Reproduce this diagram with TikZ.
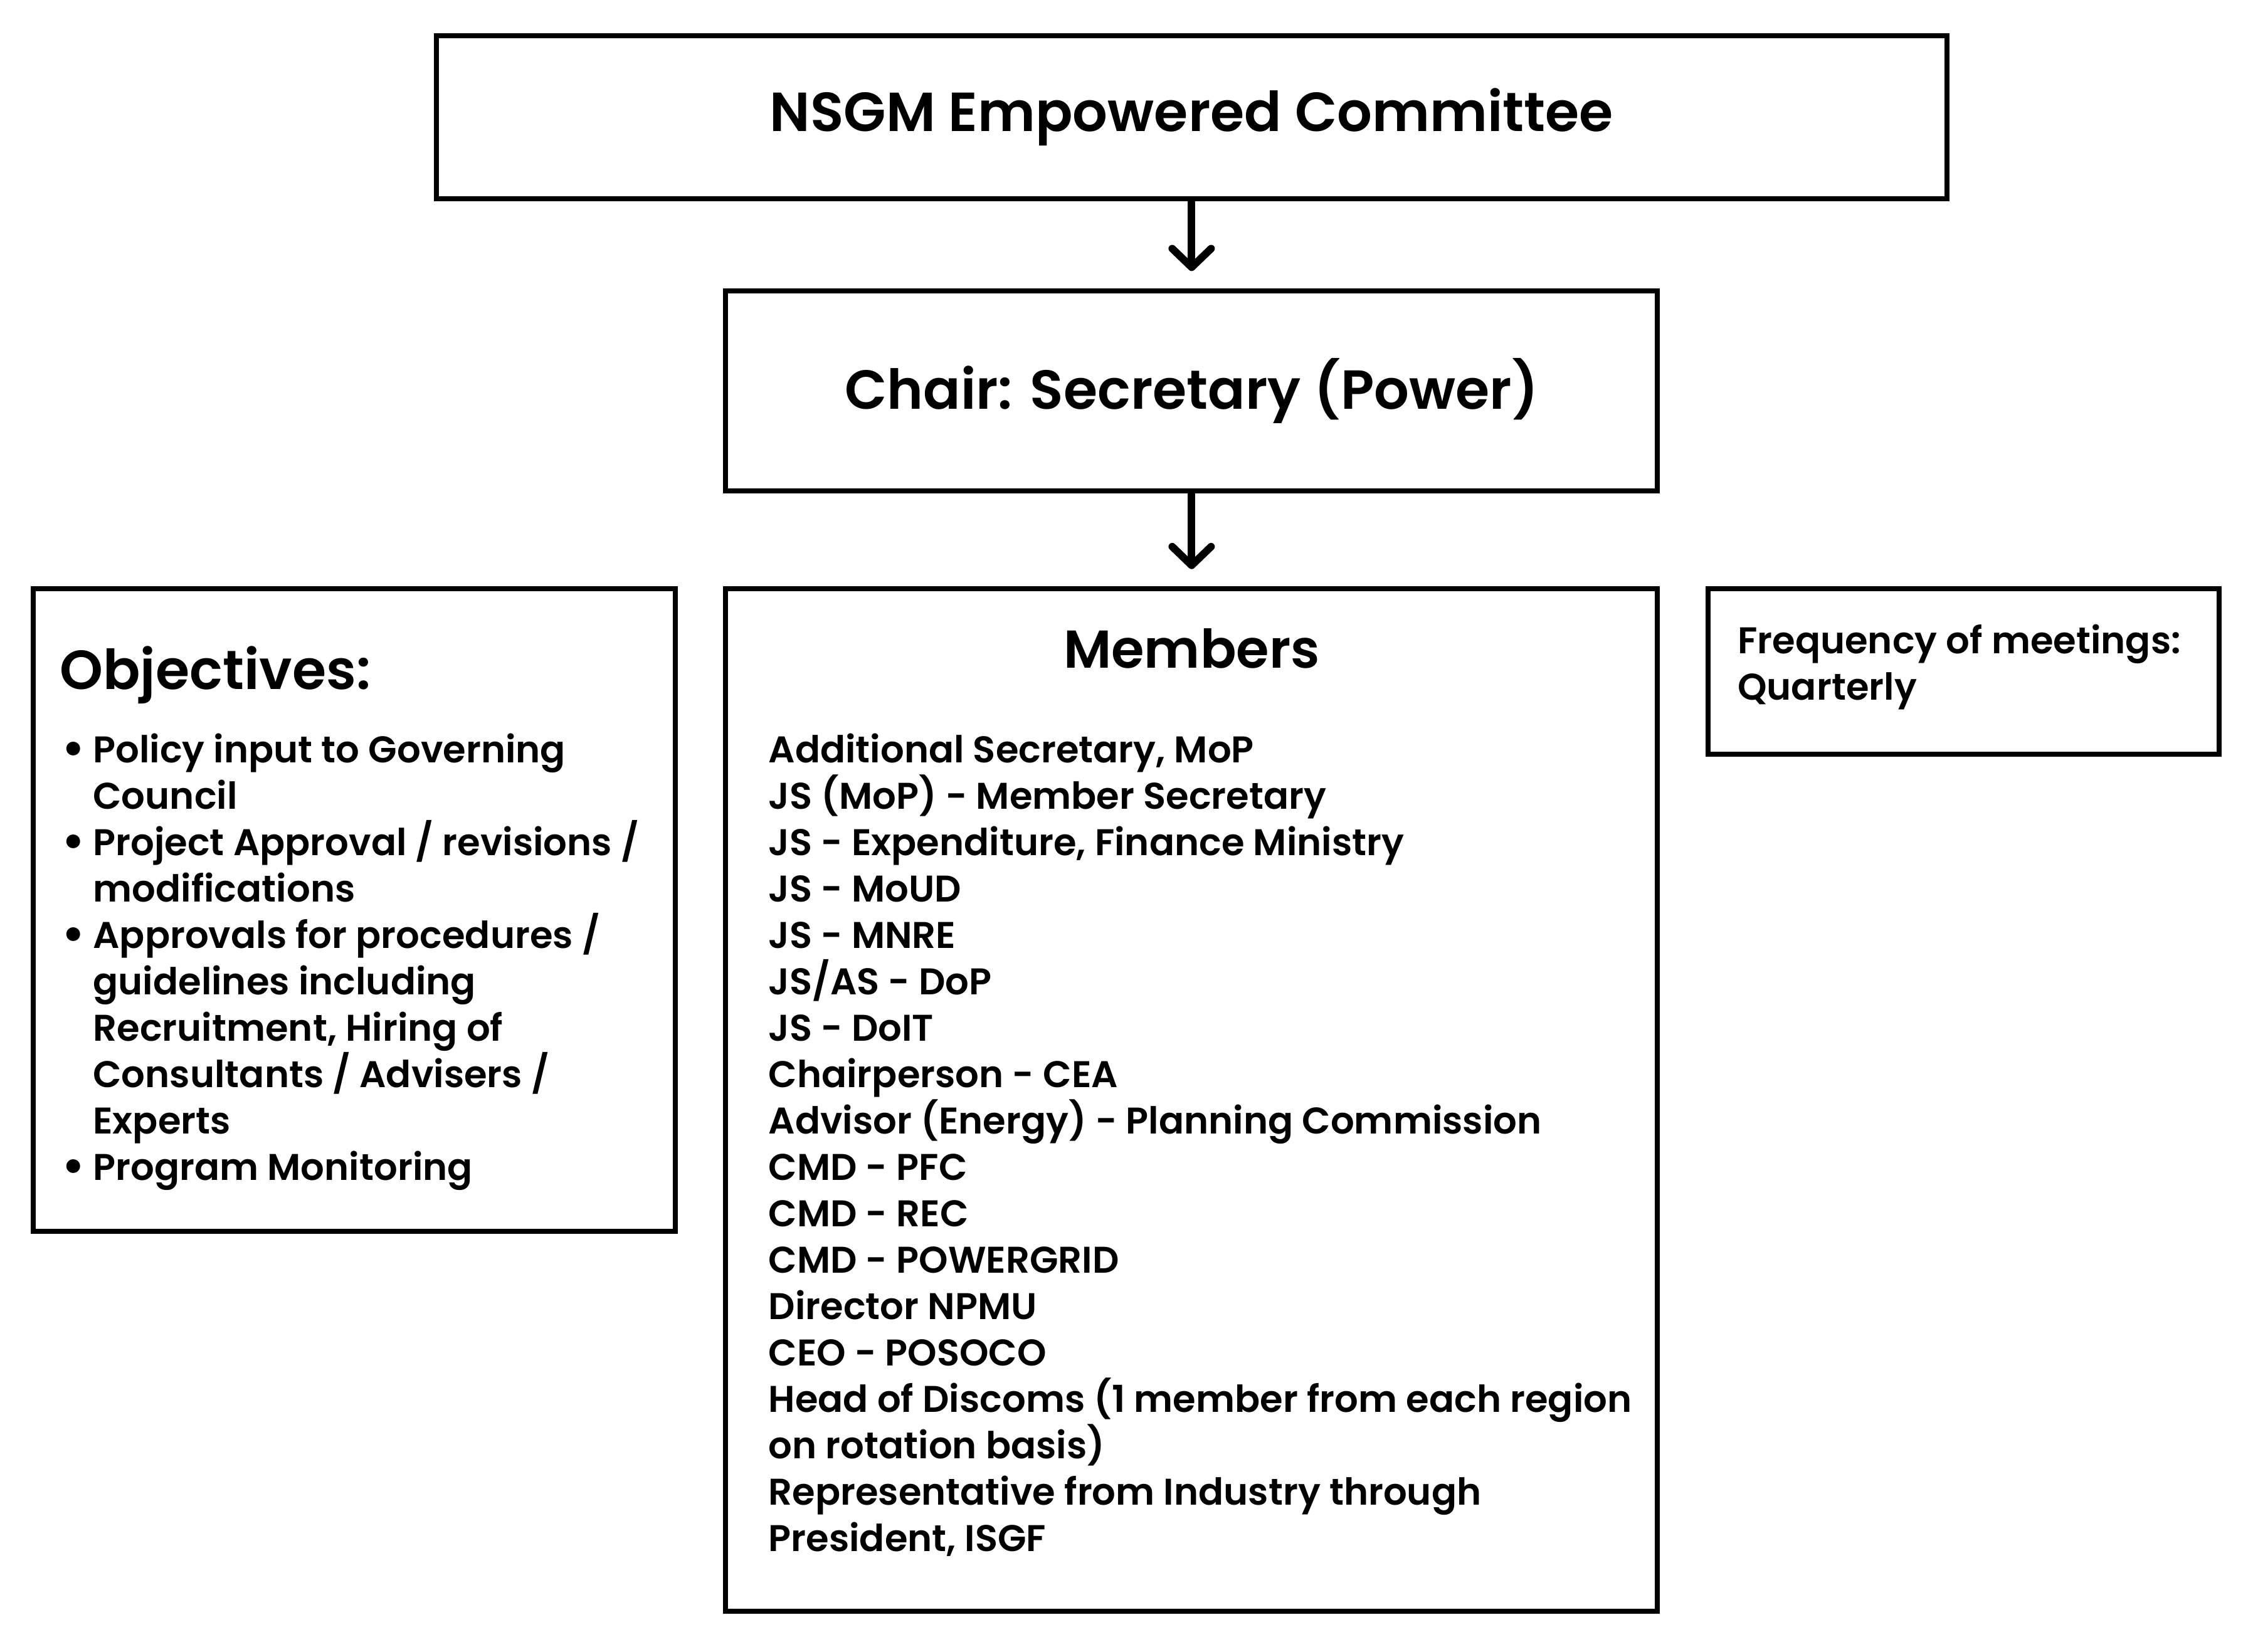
\documentclass[tikz,border=0pt]{standalone}
\usepackage{fontspec}
\setmainfont{Poppins}[UprightFont=* SemiBold, BoldFont=* Bold]
\usepackage{tikz}
\usetikzlibrary{arrows.meta,positioning}

\tikzset{
  boxnode/.style={draw=black, line width=1.75pt, fill=white, inner sep=0pt},
  headtext/.style={inner sep=0pt, font=\fontsize{19.1}{22}\selectfont},
  bodytext/.style={inner sep=0pt, align=left, font=\fontsize{12.9}{16.1}\selectfont},
  flowarrow/.style={line width=2.6pt, shorten >=6pt,
    -{Straight Barb[length=6.5pt,width=13.5pt,round]}}
}
\newcommand{\bulletgap}{\hspace*{11.5pt}}
\newcommand{\objbullet}{\makebox[11.5pt][l]{\hspace{0.6pt}\raisebox{-0.06em}{\fontsize{17}{16}\selectfont\textbullet}}}

\begin{document}
\begin{tikzpicture}[x=0.5pt,y=0.5pt,yscale=-1,xscale=1]
\useasboundingbox (0,0) rectangle (1568,1147);

%Boxes
\node[boxnode, minimum width=524.5pt, minimum height=56.5pt] (committee) at (827.5,81.5) {};
\node[boxnode, minimum width=323.5pt, minimum height=69.5pt] (chair) at (827.5,271.5) {};
\node[boxnode, minimum width=223pt, minimum height=223pt] (objectives) at (246,632) {};
\node[boxnode, minimum width=323.5pt, minimum height=355pt] (members) at (827.5,764) {};
\node[boxnode, minimum width=177.5pt, minimum height=57.5pt] (frequency) at (1363.5,466.5) {};

%Arrows
\draw[flowarrow] (committee) -- (chair);
\draw[flowarrow] (chair) -- (members);

% Text Node
\node[headtext] (committeetext) at (committee.center) {NSGM Empowered Committee};
% Text Node
\node[headtext] (chairtext) at (chair.center) {Chair: Secretary (Power)};
% Text Node
\node[headtext, font=\fontsize{18.5}{22}\selectfont, below=14.5pt of members.north] (membershead) {Members};
% Text Node
\node[headtext, below right=20.5pt and 10pt of objectives.north west] (objhead) {Objectives:};
% Text Node
\node[bodytext, below right=51pt and 10pt of objectives.north west] (objlist) {%
\objbullet Policy input to Governing\\
\bulletgap Council\\
\objbullet Project Approval / revisions /\\
\bulletgap modifications\\
\objbullet Approvals for procedures /\\
\bulletgap guidelines including\\
\bulletgap Recruitment, Hiring of\\
\bulletgap Consultants / Advisers /\\
\bulletgap Experts\\
\objbullet Program Monitoring};
% Text Node
\node[bodytext, below right=51pt and 15.5pt of members.north west] (memberlist) {%
Additional Secretary, MoP\\
JS (MoP) - Member Secretary\\
JS - Expenditure, Finance Ministry\\
JS - MoUD\\
JS - MNRE\\
JS/AS - DoP\\
JS - DoIT\\
Chairperson - CEA\\
Advisor (Energy) - Planning Commission\\
CMD - PFC\\
CMD - REC\\
CMD - POWERGRID\\
Director NPMU\\
CEO - POSOCO\\
Head of Discoms (1 member from each region\\
on rotation basis)\\
Representative from Industry through\\
President, ISGF};
% Text Node
\node[bodytext, below right=13pt and 11pt of frequency.north west] (freqtext) {%
Frequency of meetings:\\
Quarterly};
\end{tikzpicture}
\end{document}
